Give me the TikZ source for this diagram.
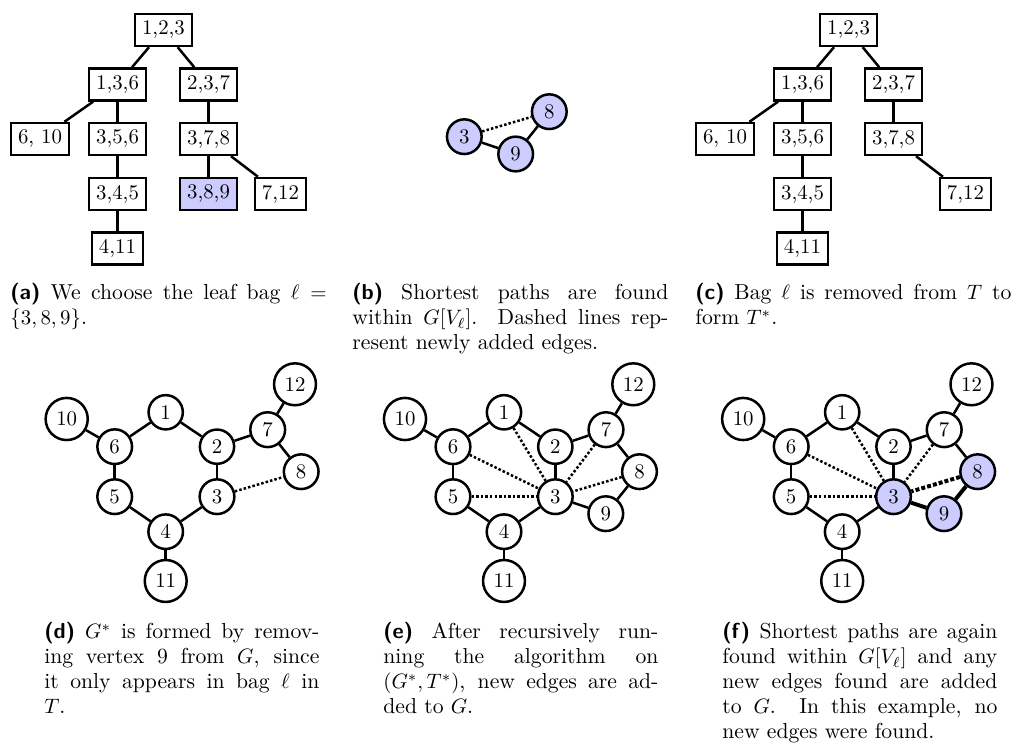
\documentclass[tikz,border=0pt]{standalone}
\newcommand{\lbl}[1]{\textsf{\bfseries #1}}
\begin{document}
\begin{tikzpicture}[x=0.48pt,y=-0.48pt,
  bag/.style={draw, very thick, rectangle, inner sep=0.3333em},
  vtx/.style={draw, very thick, circle, inner sep=2.9pt},
  hl/.style={fill=blue!20},
  edge/.style={very thick},
  newedge/.style={very thick, densely dotted},
  pathedge/.style={line width=1.9pt},
  pathnew/.style={line width=1.9pt, densely dotted},
  capnode/.style={anchor=base west, inner sep=0pt, font=\fontsize{10.4}{12}\selectfont}]
\useasboundingbox (0,0) rectangle (1015,743);

% ---------- (a) tree ----------
\node[bag] (a123) at (163.5,30) {1,2,3};
\node[bag] (a136) at (117.5,84.5) {1,3,6};
\node[bag] (a237) at (208.5,84.5) {2,3,7};
\node[bag] (a610) at (40,139) {6, 10};
\node[bag] (a356) at (117.5,139) {3,5,6};
\node[bag] (a378) at (208.5,139) {3,7,8};
\node[bag] (a345) at (117.5,194) {3,4,5};
\node[bag,hl] (a389) at (208.5,194) {3,8,9};
\node[bag] (a712) at (280.5,194) {7,12};
\node[bag] (a411) at (117.5,248.5) {4,11};
\draw[edge] (a123) -- (a136);
\draw[edge] (a123) -- (a237);
\draw[edge] (a136) -- (a610);
\draw[edge] (a136) -- (a356);
\draw[edge] (a356) -- (a345);
\draw[edge] (a345) -- (a411);
\draw[edge] (a237) -- (a378);
\draw[edge] (a378) -- (a389);
\draw[edge] (a378) -- (a712);

% ---------- (b) ----------
\node[vtx,hl] (b3) at (464.3,136.7) {3};
\node[vtx,hl] (b9) at (515.7,154) {9};
\node[vtx,hl] (b8) at (549.3,111.7) {8};
\draw[edge] (b3) -- (b9);
\draw[edge] (b9) -- (b8);
\draw[newedge] (b3) -- (b8);

% ---------- (c) tree ----------
\node[bag] (c123) at (848.5,30) {1,2,3};
\node[bag] (c136) at (802.5,84.5) {1,3,6};
\node[bag] (c237) at (893.5,84.5) {2,3,7};
\node[bag] (c610) at (725,139) {6, 10};
\node[bag] (c356) at (802.5,139) {3,5,6};
\node[bag] (c378) at (893.5,139) {3,7,8};
\node[bag] (c345) at (802.5,194) {3,4,5};
\node[bag] (c712) at (965.5,194) {7,12};
\node[bag] (c411) at (802.5,248.5) {4,11};
\draw[edge] (c123) -- (c136);
\draw[edge] (c123) -- (c237);
\draw[edge] (c136) -- (c610);
\draw[edge] (c136) -- (c356);
\draw[edge] (c356) -- (c345);
\draw[edge] (c345) -- (c411);
\draw[edge] (c237) -- (c378);
\draw[edge] (c378) -- (c712);

% ---------- (d) ----------
\node[vtx] (d1) at (165.7,412.3) {1};
\node[vtx] (d2) at (217,446.7) {2};
\node[vtx] (d3) at (217,496.7) {3};
\node[vtx] (d4) at (165.7,531.7) {4};
\node[vtx] (d5) at (114.7,496.7) {5};
\node[vtx] (d6) at (114.7,446.7) {6};
\node[vtx] (d7) at (267.7,429.7) {7};
\node[vtx] (d8) at (301.2,471.7) {8};
\node[vtx] (d10) at (66.7,419) {10};
\node[vtx] (d11) at (165.7,581) {11};
\node[vtx] (d12) at (295,384.3) {12};
\draw[edge] (d10) -- (d6);
\draw[edge] (d6) -- (d1);
\draw[edge] (d1) -- (d2);
\draw[edge] (d2) -- (d3);
\draw[edge] (d3) -- (d4);
\draw[edge] (d4) -- (d5);
\draw[edge] (d5) -- (d6);
\draw[edge] (d4) -- (d11);
\draw[edge] (d2) -- (d7);
\draw[edge] (d7) -- (d12);
\draw[edge] (d7) -- (d8);
\draw[newedge] (d3) -- (d8);

% ---------- (e) ----------
\begin{scope}[shift={(338.3,0)}]
\node[vtx] (e1) at (165.7,412.3) {1};
\node[vtx] (e2) at (217,446.7) {2};
\node[vtx] (e3) at (217,496.7) {3};
\node[vtx] (e4) at (165.7,531.7) {4};
\node[vtx] (e5) at (114.7,496.7) {5};
\node[vtx] (e6) at (114.7,446.7) {6};
\node[vtx] (e7) at (267.7,429.7) {7};
\node[vtx] (e8) at (301.2,471.7) {8};
\node[vtx] (e9) at (267.5,513.7) {9};
\node[vtx] (e10) at (66.7,419) {10};
\node[vtx] (e11) at (165.7,581) {11};
\node[vtx] (e12) at (295,384.3) {12};
\end{scope}
\draw[edge] (e10) -- (e6);
\draw[edge] (e6) -- (e1);
\draw[edge] (e1) -- (e2);
\draw[edge] (e2) -- (e3);
\draw[edge] (e3) -- (e4);
\draw[edge] (e4) -- (e5);
\draw[edge] (e5) -- (e6);
\draw[edge] (e4) -- (e11);
\draw[edge] (e2) -- (e7);
\draw[edge] (e7) -- (e12);
\draw[edge] (e7) -- (e8);
\draw[edge] (e8) -- (e9);
\draw[edge] (e3) -- (e9);
\draw[newedge] (e1) -- (e3);
\draw[newedge] (e6) -- (e3);
\draw[newedge] (e5) -- (e3);
\draw[newedge] (e7) -- (e3);
\draw[newedge] (e8) -- (e3);

% ---------- (f) ----------
\begin{scope}[shift={(676.5,0)}]
\node[vtx] (f1) at (165.7,412.3) {1};
\node[vtx] (f2) at (217,446.7) {2};
\node[vtx,hl] (f3) at (217,496.7) {3};
\node[vtx] (f4) at (165.7,531.7) {4};
\node[vtx] (f5) at (114.7,496.7) {5};
\node[vtx] (f6) at (114.7,446.7) {6};
\node[vtx] (f7) at (267.7,429.7) {7};
\node[vtx,hl] (f8) at (301.2,471.7) {8};
\node[vtx,hl] (f9) at (267.5,513.7) {9};
\node[vtx] (f10) at (66.7,419) {10};
\node[vtx] (f11) at (165.7,581) {11};
\node[vtx] (f12) at (295,384.3) {12};
\end{scope}
\draw[edge] (f10) -- (f6);
\draw[edge] (f6) -- (f1);
\draw[edge] (f1) -- (f2);
\draw[edge] (f2) -- (f3);
\draw[edge] (f3) -- (f4);
\draw[edge] (f4) -- (f5);
\draw[edge] (f5) -- (f6);
\draw[edge] (f4) -- (f11);
\draw[edge] (f2) -- (f7);
\draw[edge] (f7) -- (f12);
\draw[edge] (f7) -- (f8);
\draw[pathedge] (f8) -- (f9);
\draw[pathedge] (f3) -- (f9);
\draw[newedge] (f1) -- (f3);
\draw[newedge] (f6) -- (f3);
\draw[newedge] (f5) -- (f3);
\draw[newedge] (f7) -- (f3);
\draw[pathnew] (f8) -- (f3);

% ---------- captions ----------
\node[capnode] (capa) at (10,300) {\parbox[t]{151.7pt}{\lbl{(a)} We choose the leaf bag $\ell =$\linebreak $\{3,8,9\}$.}};
\node[capnode] (capb) at (352,300) {\parbox[t]{151.7pt}{\lbl{(b)} Shortest paths are found\linebreak within $G[V_\ell]$. Dashed lines rep-\linebreak resent newly added edges.}};
\node[capnode] (capc) at (695,300) {\parbox[t]{151.7pt}{\lbl{(c)} Bag $\ell$ is removed from $T$ to\linebreak form $T^*$.}};
\node[capnode] (capd) at (44,639) {\parbox[t]{132pt}{\lbl{(d)} $G^*$ is formed by remov-\linebreak ing vertex 9 from $G$, since\linebreak it only appears in bag $\ell$ in\linebreak $T$.}};
\node[capnode] (cape) at (383,639) {\parbox[t]{132pt}{\lbl{(e)} After recursively run-\linebreak ning the algorithm on\linebreak $(G^*,T^*)$, new edges are ad-\linebreak ded to $G$.}};
\node[capnode] (capf) at (722,639) {\parbox[t]{132pt}{\lbl{(f)} Shortest paths are again\linebreak found within $G[V_\ell]$ and any\linebreak new edges found are added\linebreak to $G$. In this example, no\linebreak new edges were found.}};
\end{tikzpicture}
\end{document}
